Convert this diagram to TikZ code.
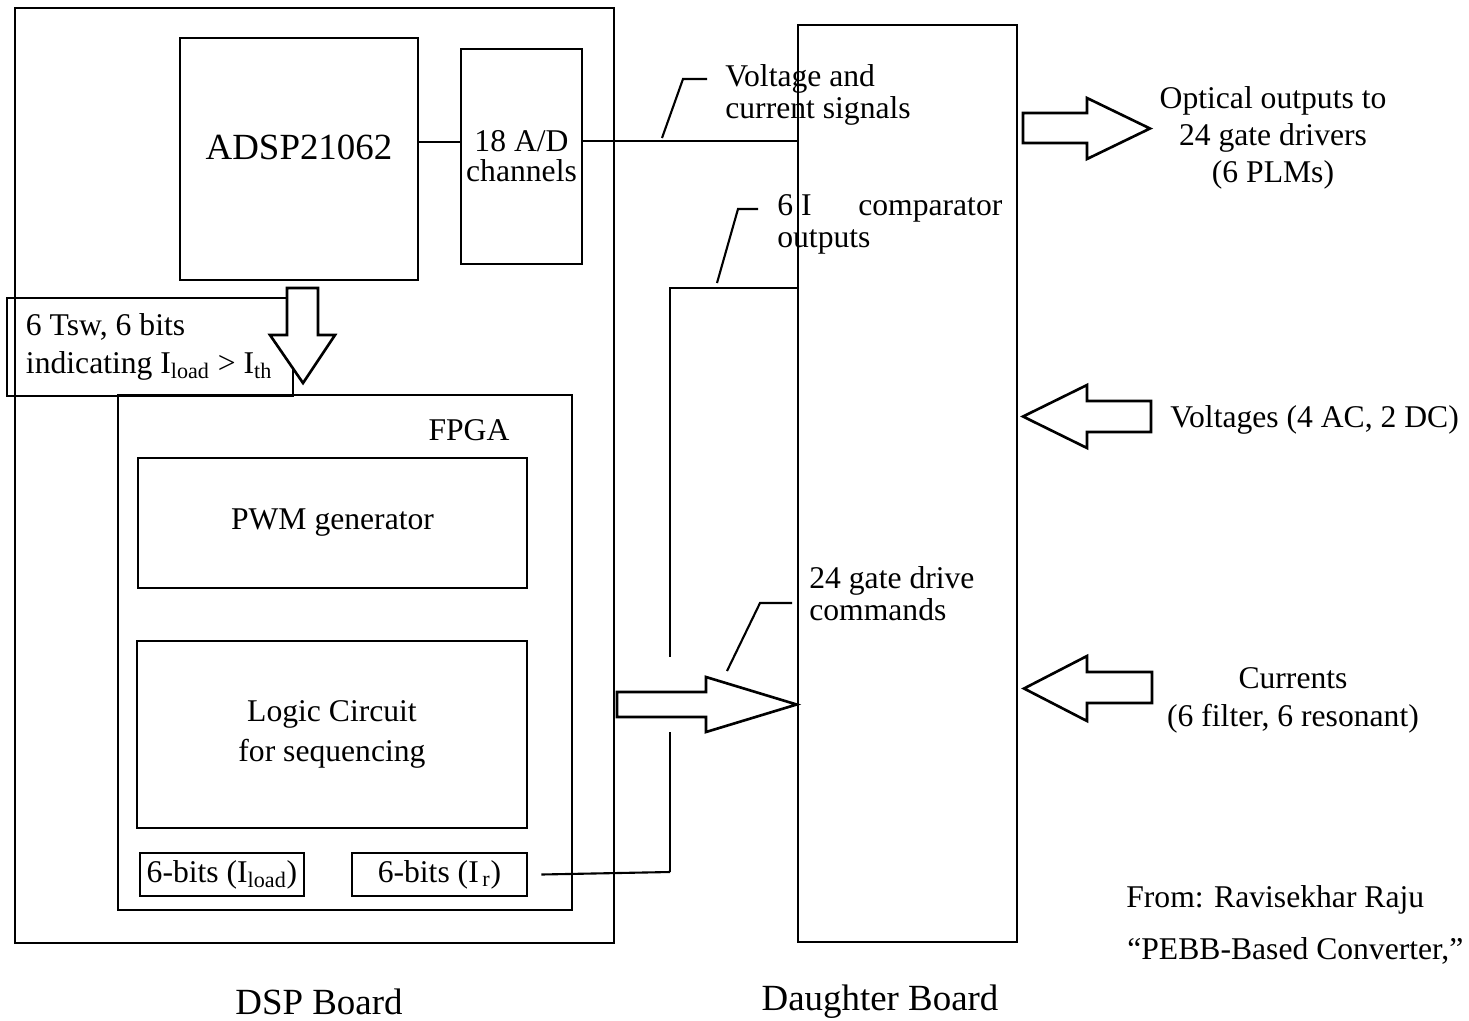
\documentclass[tikz,border=0pt]{standalone}
\usepackage{fontspec}
\setmainfont{Liberation Serif}

\begin{document}
\begin{tikzpicture}[x=2cm,y=-2cm]

%
% Styles
%
\tikzstyle{board}   = [draw,line width=1.5pt,inner sep=0pt]
\tikzstyle{block}   = [draw,line width=1.5pt,inner sep=0pt,align=center,font=\fontsize{18}{18.2}\selectfont]
\tikzstyle{txt}     = [inner sep=0pt,font=\fontsize{18}{18.2}\selectfont]
\tikzstyle{wire}    = [line width=1.5pt]
\tikzstyle{callout} = [line width=1.2pt]
\tikzstyle{fat}     = [draw,line width=1.5pt,fill=white,line join=miter]

\useasboundingbox (0,0) rectangle (14.69,10.20);

\node[board,minimum width=11.98cm,minimum height=18.70cm] (dsp) at (3.145,4.755) {};
\node[board,minimum width=4.38cm,minimum height=18.34cm]  (db)  at (9.075,4.835) {};

\node[block,minimum width=4.76cm,minimum height=4.84cm,text depth=0.48cm,font=\fontsize{21}{21}\selectfont] (adsp) at (2.99,1.59) {ADSP21062};
\node[block,minimum width=2.42cm,minimum height=4.30cm,font=\fontsize{18}{17}\selectfont] (ad) at (5.215,1.565) {18 A/D\\channels};
\node[block,minimum width=5.72cm,minimum height=1.96cm,text width=4.96cm,inner xsep=0.38cm,align=flush left,font=\fontsize{18}{22}\selectfont] (tsw) at (1.50,3.47) {6 Tsw, 6 bits\\indicating I\textsubscript{load} > I\textsubscript{th}};
\node[block,minimum width=9.08cm,minimum height=10.30cm] (fpga) at (3.45,6.525) {};
\node[txt] (fpgalbl) at (4.69,4.30) {FPGA};
\node[block,minimum width=7.78cm,minimum height=2.60cm] (pwm) at (3.325,5.23) {PWM generator};
\node[block,minimum width=7.80cm,minimum height=3.74cm,font=\fontsize{18}{22.8}\selectfont] (logic) at (3.32,7.345) {Logic Circuit\\for sequencing};
\node[block,minimum width=3.28cm,minimum height=0.86cm] (bitsload) at (2.22,8.745) {6-bits (I\textsubscript{load})};
\node[block,minimum width=3.50cm,minimum height=0.86cm] (bitsr) at (4.395,8.745) {6-bits (I\textsubscript{\,r})};

% ADSP to FPGA
\draw[fat] (2.87,2.88) -- (3.18,2.88) -- (3.18,3.35) -- (3.35,3.35) -- (3.03,3.83) -- (2.70,3.35) -- (2.87,3.35) -- cycle;

% signal lines
\draw[wire] (adsp.east |- 0,1.42) -- (ad.west |- 0,1.42);
\draw[wire] (ad.east |- 0,1.41) -- (db.west |- 0,1.41);

\coordinate (cmpA) at (6.70,2.88);
\coordinate (cmpB) at (6.70,6.57);
\coordinate (cmpC) at (6.70,7.32);
\coordinate (cmpD) at (6.70,8.72);
\draw[wire] (db.west |- cmpA) -- (cmpA) -- (cmpB);
\draw[wire] (cmpC) -- (cmpD);
\draw[callout] ([xshift=0.26cm]bitsr.east) -- (cmpD);

% gate drive commands
\draw[fat] (6.17,6.92) -- (7.06,6.92) -- (7.06,6.77) -- (db.west |- 0,7.045) -- (7.06,7.32) -- (7.06,7.17) -- (6.17,7.17) -- cycle;

% daughter board in/out
\draw[fat] (10.23,1.13) -- (10.87,1.13) -- (10.87,0.98) -- (11.50,1.285) -- (10.87,1.59) -- (10.87,1.43) -- (10.23,1.43) -- cycle;
\draw[fat] (11.51,4.01) -- (10.87,4.01) -- (10.87,3.85) -- (10.23,4.165) -- (10.87,4.48) -- (10.87,4.32) -- (11.51,4.32) -- cycle;
\draw[fat] (11.52,6.72) -- (10.87,6.72) -- (10.87,6.56) -- (10.24,6.885) -- (10.87,7.21) -- (10.87,7.03) -- (11.52,7.03) -- cycle;

% callouts
\draw[callout] (6.62,1.38) -- (6.83,0.79) -- (7.07,0.79);
\draw[callout] (7.17,2.83) -- (7.38,2.09) -- (7.58,2.09);
\draw[callout] (7.27,6.71) -- (7.60,6.03) -- (7.92,6.03);

\node[txt,anchor=west,align=left] (vsig) at (7.25,0.95) {Voltage and\\current signals};
\node[txt,anchor=west,text width=4.5cm,align=flush left] (cmp) at (7.77,2.24) {6 I\hfill comparator\\outputs};
\node[txt,anchor=west,align=left] (gdrv) at (8.09,5.94) {24 gate drive\\commands};

\node[txt,align=center,font=\fontsize{18}{21}\selectfont] (optlbl) at (12.73,1.375) {Optical outputs to\\24 gate drivers\\(6 PLMs)};
\node[txt,anchor=west] (vlbl) at (11.70,4.20) {Voltages (4 AC, 2 DC)};
\node[txt,align=center,font=\fontsize{18}{21.6}\selectfont] (curlbl) at (12.93,7.00) {Currents\\(6 filter, 6 resonant)};

\node[txt,anchor=base west] (src1) at (11.26,9.07) {From: Ravisekhar Raju};
\node[txt,anchor=base west] (src2) at (11.27,9.59) {“PEBB-Based Converter,”};

\node[txt,anchor=base,font=\fontsize{21}{21}\selectfont] (dsplbl) at (3.19,10.14) {DSP Board};
\node[txt,anchor=base,font=\fontsize{21}{21}\selectfont] (dblbl)  at (8.80,10.10) {Daughter Board};

\end{tikzpicture}
\end{document}
